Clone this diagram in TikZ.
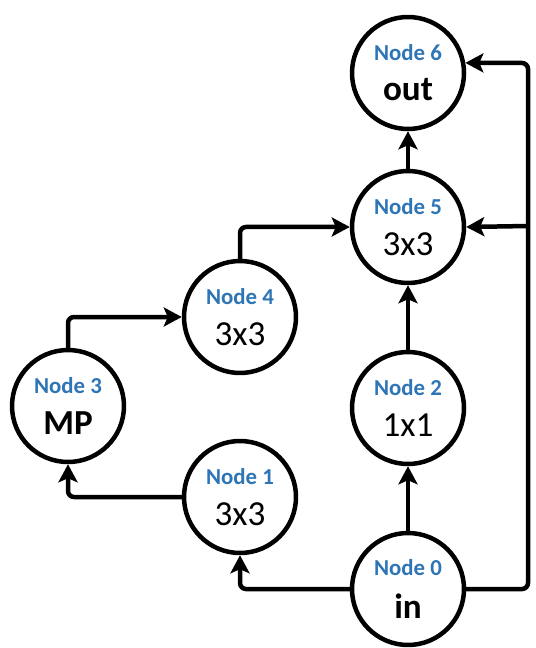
\documentclass[tikz,border=0pt]{standalone}
\usepackage{fontspec}
\setmainfont{Carlito}
\usepackage{tikz}
\usetikzlibrary{arrows.meta, positioning}

\definecolor{nodeblue}{RGB}{46,117,182}
\newcommand{\nodelab}[1]{{\color{nodeblue}\fontsize{13}{15}\selectfont\bfseries #1}}
\newcommand{\opname}[1]{{\fontsize{20}{24}\selectfont #1}}

\begin{document}
\begin{tikzpicture}[x=0.02cm, y=-0.02cm]
    \tikzstyle{op}=[circle, draw, line width=0.09cm, minimum size=2.24cm, inner sep=0pt, align=center, fill=white]
    \tikzstyle{link}=[line width=0.09cm, rounded corners=0.12cm, -{Stealth[length=3.6mm, width=3.8mm, inset=0.8mm]}]
    \useasboundingbox (0,0) rectangle (535,648);

    % cells
    \node [op] (n0) at (408,589) {\nodelab{Node 0}\\[9pt]\opname{\bfseries in}};
    \node [op] (n1) at (240,497) {\nodelab{Node 1}\\[9pt]\opname{3x3}};
    \node [op] (n2) at (408,408) {\nodelab{Node 2}\\[9pt]\opname{1x1}};
    \node [op] (n3) at (68,406) {\nodelab{Node 3}\\[9pt]\opname{\bfseries MP}};
    \node [op] (n4) at (240,317) {\nodelab{Node 4}\\[9pt]\opname{3x3}};
    \node [op] (n5) at (408,227) {\nodelab{Node 5}\\[9pt]\opname{3x3}};
    \node [op] (n6) at (408,73) {\nodelab{Node 6}\\[9pt]\opname{\bfseries out}};

    % skip line on the right
    \coordinate (rt) at (528,63);
    \coordinate (br) at (528,226);

    \draw [link] (n0) -- (n2);
    \draw [link] (n2) -- (n5);
    \draw [link] (n5) -- (n6);
    \draw [link] (n0.west) -| (n1.south);
    \draw [link] (n1.west) -| (n3.south);
    \draw [link] (n3.north) |- (n4.west);
    \draw [link] (n4.north) |- (n5.west);
    \draw [link] (n0.east) -| (rt) -- (n6.10);
    \draw [link] (br) -- (n5.east);
\end{tikzpicture}
\end{document}
